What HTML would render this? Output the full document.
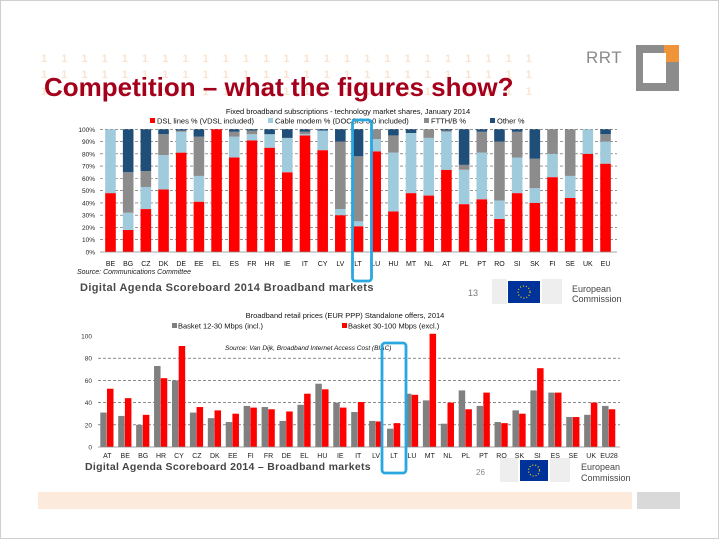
<!DOCTYPE html>
<html><head><meta charset="utf-8">
<style>
html,body{margin:0;padding:0;background:#fff;}
#slide{position:relative;width:720px;height:540px;overflow:hidden;font-family:"Liberation Sans",sans-serif;}
svg text{font-family:"Liberation Sans",sans-serif;}
</style></head>
<body>
<div id="slide">
<svg id="svg" width="720" height="540" viewBox="0 0 720 540" xmlns="http://www.w3.org/2000/svg">
  <rect x="0.5" y="0.5" width="718" height="538" fill="#fff" stroke="#cfcfcf"/>
  <g id="pattern" fill="#fbe4cf" font-size="11" font-weight="bold"></g>
  <text x="44" y="96" font-size="26" font-weight="bold" fill="#a5001b">Competition – what the figures show?</text>
  <g>
    <text x="586" y="63" font-size="17" fill="#8a8a8a" letter-spacing="0.5">RRT</text>
    <rect x="636" y="45" width="43" height="46" fill="#8c8c8c"/>
    <rect x="664" y="45" width="15" height="17" fill="#f0943a"/>
    <rect x="643" y="53" width="23" height="30" fill="#fff"/>
  </g>
  <g id="topG"></g>
  <g id="botG"></g>
  <g>
    <rect x="38" y="492" width="594" height="17" fill="#fcebdc"/>
    <rect x="637" y="492" width="43" height="17" fill="#d9d9d9"/>
  </g>
</svg>
</div>
<script>
// ---------- top chart data ----------
const topCats = ["BE","BG","CZ","DK","DE","EE","EL","ES","FR","HR","IE","IT","CY","LV","LT","LU","HU","MT","NL","AT","PL","PT","RO","SI","SK","FI","SE","UK","EU"];
const dslVals   = [48,18,35,51,81,41,100,77,91,85,65,95,83,30,21,82,33,48,46,67,39,43,27,48,40,61,44,80,72];
const cableVals = [52,14,18,28,17,21,0,17,5,11,28,1,16,5,4,10,48,49,47,31,28,38,15,29,12,19,18,20,18];
const ftthVals  = [0,33,13,17,1,32,0,4,3,0,0,2,0,55,53,8,14,0,7,1,4,17,48,21,24,20,38,0,6];
const otherVals = [0,35,34,4,1,6,0,2,1,4,7,2,1,10,22,0,5,3,0,1,29,2,10,2,24,0,0,0,4];
const topTicks  = ["0%","10%","20%","30%","40%","50%","60%","70%","80%","90%","100%"];
const topSeriesNames = ["DSL lines % (VDSL included)","Cable modem % (DOCSIS 3.0 included)","FTTH/B %","Other %"];
// ---------- bottom chart data ----------
const botCats = ["AT","BE","BG","HR","CY","CZ","DK","EE","FI","FR","DE","EL","HU","IE","IT","LV","LT","LU","MT","NL","PL","PT","RO","SK","SI","ES","SE","UK","EU28"];
const basketLow  = [31,28,20,73,60,31,26,22.5,37,36,23.5,38,57,40,31.5,23.5,16.5,48,42,21,51,37,22.5,33,51,49,27,29,37];
const basketHigh = [52.5,44,29,62,91,36,33,30,35.5,34,32,48,52,35.5,40.5,23,21.5,47,102,40,34,49,21.5,30,71,49,27,40,34];
const botTicks = [0,20,40,60,80,100];
const botSeriesNames = ["Basket 12-30 Mbps (incl.)","Basket 30-100 Mbps (excl.)"];

const NS="http://www.w3.org/2000/svg";
function mk(tag,attrs,parent,txt){const e=document.createElementNS(NS,tag);for(const k in attrs)e.setAttribute(k,attrs[k]);if(txt!==undefined)e.textContent=txt;parent.appendChild(e);return e;}

// header pattern
const pat=document.getElementById('pattern');
const patRows=[62,78,95];
for(let r=0;r<3;r++){
  for(let i=0;i<25;i++){
    const t=mk('text',{x:41+i*20.2,y:patRows[r]},pat,"1");
    
    
  }
}

// ---------- top chart ----------
const topG=document.getElementById('topG');
const tX=i=>110.5+i*17.68, tY=v=>252-v*1.227;
mk('text',{x:348,y:114,"font-size":"7.5","text-anchor":"middle",fill:"#111"},topG,"Fixed broadband subscriptions - technology market shares,  January 2014");
const topColors=["#ff0000","#9fcbdc","#8c8c8c","#1f4e79"];
const legX=[150,268,424,490];
topSeriesNames.forEach((n,i)=>{
  const r=mk('rect',{x:legX[i],y:118,width:5,height:5,fill:topColors[i]},topG);
  
  
  const t=mk('text',{x:legX[i]+7,y:123.5,"font-size":"7.5",fill:"#111"},topG,n);
  
  
});
topTicks.forEach((l,i)=>{
  const v=i*10;
  if(v>0){const g=mk('line',{x1:100,x2:617,y1:tY(v),y2:tY(v),stroke:"#555","stroke-width":"0.6","stroke-dasharray":"3,2"},topG);
    
    }
  const t=mk('text',{x:95,y:tY(v)+2.5,"font-size":"6.5","text-anchor":"end",fill:"#222"},topG,l);
  
  
});
const series=[dslVals,cableVals,ftthVals,otherVals];
topCats.forEach((c,i)=>{
  let acc=0;
  series.forEach((s,k)=>{
    const v=s[i]; if(v<=0)return;
    const r=mk('rect',{x:tX(i)-5.3,y:tY(Math.min(100,acc+v)),width:10.6,height:tY(acc)-tY(Math.min(100,acc+v)),fill:topColors[k]},topG);
    
    
    acc+=v;
  });
  const t=mk('text',{x:tX(i),y:266,"font-size":"7","text-anchor":"middle",fill:"#111"},topG,c);
  
  
});
mk('line',{x1:100,x2:617,y1:252,y2:252,stroke:"#888","stroke-width":"0.8"},topG);
mk('text',{x:77,y:274,"font-size":"7","font-style":"italic",fill:"#222"},topG,"Source: Communications Committee");
mk('text',{x:80,y:291,"font-size":"11","font-weight":"bold",fill:"#4a4a4a","letter-spacing":"0.4"},topG,"Digital Agenda Scoreboard 2014    Broadband markets");
mk('text',{x:468,y:296,"font-size":"9",fill:"#777"},topG,"13");
mk('rect',{x:492,y:279,width:15,height:25,fill:"#eee"},topG);
mk('rect',{x:508,y:281,width:32,height:22,fill:"#003399"},topG);
mk('circle',{cx:524,cy:292,r:6,fill:"none",stroke:"#ffcc00","stroke-width":"1.2","stroke-dasharray":"1,2"},topG);
mk('rect',{x:542,y:279,width:20,height:25,fill:"#eee"},topG);
mk('text',{x:572,y:292,"font-size":"9",fill:"#444"},topG,"European");
mk('text',{x:572,y:302,"font-size":"9",fill:"#444"},topG,"Commission");
mk('rect',{x:352.5,y:120,width:19,height:161,rx:3,fill:"none",stroke:"#29a8e0","stroke-width":"2.8"},topG);

// ---------- bottom chart ----------
const botG=document.getElementById('botG');
const bX=i=>107.3+i*17.92, bY=v=>447-v*1.11;
mk('text',{x:345,y:318,"font-size":"7.5",fill:"#111","text-anchor":"middle"},botG,"Broadband retail prices (EUR PPP)    Standalone offers, 2014");
const botColors=["#808080","#ff0000"];
const bLegX=[172,342];
botSeriesNames.forEach((n,i)=>{
  const r=mk('rect',{x:bLegX[i],y:323,width:5,height:5,fill:botColors[i]},botG);
  
  
  const t=mk('text',{x:bLegX[i]+6,y:328.5,"font-size":"7.5",fill:"#111"},botG,n);
  
  
});
mk('text',{x:225,y:350,"font-size":"6.5","font-style":"italic",fill:"#111"},botG,"Source: Van Dijk, Broadband Internet Access Cost (BIAC)");
botTicks.forEach(v=>{
  if(v>0&&v<100){const g=mk('line',{x1:98,x2:620,y1:bY(v),y2:bY(v),stroke:"#444","stroke-width":"0.6","stroke-dasharray":"3,2"},botG);
    
    }
  const t=mk('text',{x:92,y:bY(v)+2.5,"font-size":"6.5","text-anchor":"end",fill:"#333"},botG,String(v));
  
  
});
botCats.forEach((c,i)=>{
  const g=mk('rect',{x:bX(i)-7,y:bY(basketLow[i]),width:6.5,height:447-bY(basketLow[i]),fill:botColors[0]},botG);
  
  
  const r=mk('rect',{x:bX(i)-0.3,y:bY(basketHigh[i]),width:6.5,height:447-bY(basketHigh[i]),fill:botColors[1]},botG);
  
  
  const t=mk('text',{x:bX(i),y:458,"font-size":"7","text-anchor":"middle",fill:"#222"},botG,c);
  
  
});
mk('line',{x1:98,x2:620,y1:447,y2:447,stroke:"#888","stroke-width":"0.8"},botG);
mk('text',{x:85,y:470,"font-size":"10.5","font-weight":"bold",fill:"#444","letter-spacing":"0.3"},botG,"Digital Agenda Scoreboard 2014 – Broadband markets");
mk('text',{x:476,y:475,"font-size":"8",fill:"#888"},botG,"26");
mk('rect',{x:500,y:458,width:18,height:24,fill:"#eee"},botG);
mk('rect',{x:520,y:460,width:28,height:21,fill:"#003399"},botG);
mk('circle',{cx:534,cy:470.5,r:5.5,fill:"none",stroke:"#ffcc00","stroke-width":"1.2","stroke-dasharray":"1,2"},botG);
mk('rect',{x:550,y:458,width:20,height:24,fill:"#eee"},botG);
mk('text',{x:581,y:470,"font-size":"9",fill:"#444"},botG,"European");
mk('text',{x:581,y:481,"font-size":"9",fill:"#444"},botG,"Commission");
mk('rect',{x:382,y:343,width:24,height:130,rx:3,fill:"none",stroke:"#29a8e0","stroke-width":"2.8"},botG);
</script>
</body></html>
